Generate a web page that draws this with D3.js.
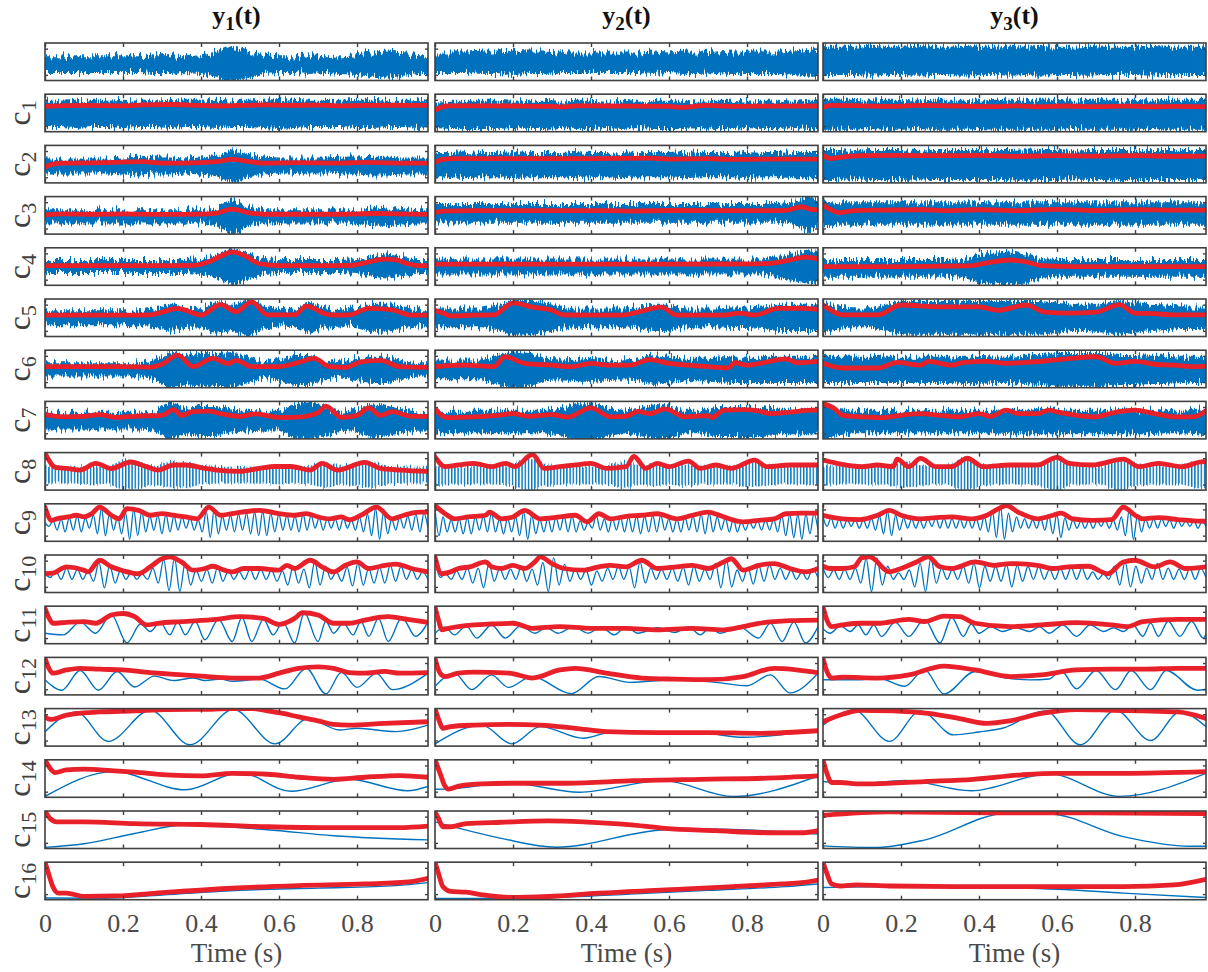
<!DOCTYPE html>
<html><head><meta charset="utf-8">
<script src="https://cdn.jsdelivr.net/npm/d3@7"></script>
<style>html,body{margin:0;padding:0;background:#fff;}svg{display:block;}</style>
</head><body><svg id="chart" width="1208" height="972"></svg>
<script>
const TMAX = 0.982;
const columnSubscripts = ["1","2","3"];
const rowLabels = ["","1","2","3","4","5","6","7","8","9","10","11","12","13","14","15","16"];
const xTicks = [0,0.2,0.4,0.6,0.8];
const xTickLabels = ["0","0.2","0.4","0.6","0.8"];
const yTicks = [-7,7];
const bandTimes = [0,.04,.08,.12,.16,.2,.24,.28,.32,.36,.4,.44,.48,.52,.56,.6,.64,.68,.72,.76,.8,.84,.88,.92,.96,.982];

// noisy rows: half-width of the blue band (panel units -10..10), per column
const ampY  = [[4.5,4.5,4.5,4.5,4.5,4.5,4.5,5,5,4.5,5,6.5,10,7.5,5,4.5,4.5,5,4.5,5,5.5,6.5,7,6,5,5],
               [5.5,5.5,5.5,6,6,6.5,6,6,5.5,5.5,5.5,5.5,5.5,5.5,6,5.5,6,6,5.5,6,6,6,6,6.5,7.5,7.5],
               [7.5,7.5,7.5,8,7.5,7.5,8,7.5,7.5,8,7.5,7.5,8,7.5,8,7.5,7.5,8,7.5,7.5,7.5,8,7.5,7.5,7.5,7.5]];
const ampC1 = [[7,7,7.5,7,7,7.5,7,7,7.5,7,7,7.5,7,7,7.5,8,7.5,7,7,7,7.5,7.5,7,7,7.5,7],
               [7,7.5,7.5,7.5,7.5,7,7.5,7.5,7,7.5,7.5,7,7.5,7,7.5,7.5,7.5,7,7.5,7.5,7,7.5,7.5,7,7.5,7.5],
               [8,8,8,7.5,8,8,7.5,8,8,8,7.5,8,8,8,8,8,7.5,8,8,8,8,7.5,8,8,8,8]];
const ampC2 = [[4,4,4,4,4,4.5,5,4.5,4.5,4,4.5,5.5,9,6,4.5,4,4,4,4,4.5,4.5,5,5,4.5,4.5,4.5],
               [6.5,6.5,7,6.5,6.5,7,6.5,6.5,6.5,7,6.5,6.5,7,6.5,6.5,6.5,7,6.5,6.5,6.5,7,6.5,6.5,7,7,7],
               [8,8,7.5,8,8,8,7.5,8,8,8,8,8,8,8.5,8,8,7.5,8,8,8,8,8,8,8,8,8]];
const ampC3 = [[3.5,3.5,3.5,3.5,3.5,3.5,3.5,3.5,3.5,3.5,3.5,4.5,9.5,5,3.5,3.5,3.5,3.5,3.5,3.5,3.5,4.5,5,4,3.5,3.5],
               [5,5,5,5,5,5,5,5,5,5,5,5,5,5,5,5,5,5,5,5,5,5,5,6,10,6],
               [7,6,6,6,6,6,6,6,6,6,6,6,6,6,6,6,6,6,6,6,6,6,6,6,6,6]];
const ampC4 = [[3.5,3.5,3.5,3.5,3.5,3.5,3.5,3.5,3.5,3.5,4,6,10,7,4,3.5,3.5,3.5,3.5,3.5,4,5.5,6.5,5,3.5,3.5],
               [4,4,4,4,4,4,4,4,4,4,4,4,4,4,4,4,4,4,4,4,4,4,5.5,7.5,9,8],
               [4.5,4.5,4.5,4.5,4.5,4.5,4.5,4.5,4.5,5,7.5,8.5,9,8,5,4.5,4.5,4.5,4.5,4.5,4.5,4.5,4.5,4.5,4.5,4.5]];
const ampC5 = [[4,4,4,4,4,4,4,5,7,5.5,5,8.5,7,10,6,4.5,5,8,5.5,4.5,5,7.5,7.5,5.5,4.5,4.5],
               [5,5,5,5,6.5,9.5,9.5,8,6,5,5,5,5,5.5,7,7,5,5,5,5.5,5.5,6,7,7,7,7],
               [8,6,5,5,7,9,9,9,9,9,9,9,9,9,9,8,7,7,8,9,8,7,6.5,6,6,6]];
const ampC6 = [[3.5,3.5,3.5,3.5,3.5,3.5,3.5,5,10,8,9,9,9.5,7,4,6,8,8,5,4,6,7,7,4.5,3.5,3.5],
               [5,5,5,5,8,10,9,6,5.5,6,6.5,5.5,5,5.5,8,7,6,6,6.5,7,7,7,7,7,7,7],
               [7,7,7,7,7,7,7,7,7,7.5,7.5,7,7,7.5,8,9,9,9,9,8,8,7.5,7.5,7,7,7]];
const ampC7 = [[4.5,4.5,4.5,4.5,4.5,4.5,4.5,5,10,7,8,8,6,5.5,5,5,9,10,8,5,6,9,8,6,5,5],
               [6,6,6,6,6,6,6,6,7,10,10,8,6,7,9,9,6,6,8,8,8,8,6.5,6.5,6.5,6.5],
               [10,7,6,6,6,6,6,6,6,6,6,6,6.5,6.5,6.5,6.5,6.5,6.5,6.5,6.5,6.5,6.5,6,6,6.5,7]];
const ampC8 = [[4.5,4.5,4.5,5.5,4.5,8,7,5,7,7,5,4.5,4.5,4.5,4.5,5,4.5,5,7,5,6,7,5,4.5,4.5,4.5],
               [6,5,5,5,5,6,9,6,5,5,5,5,7.5,5,6,5,6,5,5,5,6.5,6,5,5,5,5],
               [5,5,5,5,5,7,6,5,5,9,6,5,5,5,6,9,5,5,5,9,6,5,5,5,7,7]];
const bandCentre = [[-1.5,-0.5,0.5],[-0.5,-1,-1],[-1,-0.5,-0.5],[-0.8,1,1],[0,-0.3,-1],[0,0,0],[-0.5,-0.5,-0.5],[-0.5,-1,-1],[-2,-2,-2]];

// oscillating IMFs c9, c10: successive peaks and troughs
const c9Peaks = [[0,1,2,2.5,3.5,2.5,4,7.5,5,3,5,7,6,3.5,4,4.5,3.5,3,2.5,1.5,6,7.5,3.5,4,4.5,5,5.5,6,5,4.5,4,3.5,4.5,4,2.5,2,2,2.5,1.5,3,4.5,7.5,6,2,3,3.5,4.5,5],
                 [7,3,1.5,2,2.5,3,3.5,5,2,2.5,3,6,4,2,2.5,3,3.5,3.5,1,0,4,2,2.5,3,3,3.5,3.5,4,4,2,2,3,3.5,4.5,5,3,2.5,2,0.5,0.5,1,1.5,2,4,4.5,4.5,4.5,5],
                 [3,2.5,2,1.5,1.5,1.5,2.5,3.5,6,4,2.5,2,1.5,2,2.5,2.5,2,2,2,2.5,3.5,6.5,9,5,3,2,1.5,2.5,3.5,4.5,2.5,1.5,1,1,1,1.5,1.5,3,7.5,4,2,2,2,1.5,1.5,1,1,0.5]];
const c9Troughs = [[-2,-4,-5,-4,-5,-3,-6,-7,-4,-6,-9,-7,-5,-4,-6,-5,-4,-3,-4,-5,-8,-6,-4,-5,-4,-6,-7,-7,-5,-4,-4,-5,-4,-3,-4,-3,-4,-3,-4,-5,-7,-9,-6,-4,-3,-4,-5,-3],
                   [-7,-5,-5,-6,-6,-4,-5,-5,-6,-5,-7,-9,-6,-5,-5,-4,-5,-5,-4,-3,-4,-5,-4,-5,-5,-6,-5,-5,-4,-5,-5,-4,-5,-6,-5,-4,-5,-5,-4,-3,-4,-4,-5,-7,-8,-9,-6,-4],
                   [-2,-3,-3,-2,-3,-3,-4,-6,-7,-4,-3,-3,-3,-2,-3,-3,-3,-3,-3,-4,-5,-8,-9,-5,-3,-3,-3,-4,-6,-8,-4,-3,-3,-3,-2,-3,-4,-7,-9,-5,-3,-3,-2,-3,-2,-2,-3,-2]];
const c10Peaks = [[0,1.5,3,2.5,1.5,6,4.5,2,1,0,3,7.5,8.5,6,2,2.5,3.5,2,1,2.5,2.5,2,1.5,4,2.5,6.5,4,1,3.5,5.5,3,3.5,4.5,4,2.5,1],
                  [7,0,1.5,3,3,5.5,3,2.5,4,2.5,6,8.5,5,2.5,2,1.5,3,4,3.5,6.5,3,2.5,3,3.5,4,2.5,5.5,7.5,2,3.5,4.5,5,3,2,1,2.5],
                  [3,2,2.5,3,8,8.5,4,0.5,2,5.5,8.5,3,2.5,4,5.5,4,4,5,4.5,4,4,2.5,3,3.5,3,1,0,4,6.5,4,3,5.5,3,2.5,3,3]];
const c10Troughs = [[-2,-3,-3,-3,-4,-7.5,-5,-3,-3,-3,-5,-9,-9.5,-6,-4,-5,-4,-3,-3,-3,-3,-4,-6,-5,-7.5,-6,-3,-4,-6.5,-6,-5,-5,-4,-3,-3,-3],
                    [-2,-3,-3,-5,-7.5,-4,-3,-3,-4,-6,-9.5,-6,-4,-3,-6,-4,-3,-3,-7.5,-5,-3,-3,-4,-6,-4,-3,-7.5,-7,-4,-5.5,-4,-3,-3,-3,-3,-2],
                    [-2,-3,-3,-5,-9.5,-6,-3,-3,-7,-9.5,-5,-3,-3,-5,-7.5,-4,-4,-7,-4,-3,-3,-3,-3,-3,-3,-3,-3,-6,-7,-5,-3,-3,-3,-3,-3,-2]];

// slow IMFs c11..c16: [time, value] extrema
const blueC11 = [[[0,-4.4],[.047,-5.3],[.09,1.5],[.13,-4.4],[.17,5.5],[.21,-9.6],[.245,.5],[.27,-3.5],[.295,1.5],[.32,-5.3],[.34,1.5],[.36,-5.3],[.385,2],[.41,-7.9],[.445,3],[.48,-8.8],[.505,4],[.53,-8.8],[.56,3],[.585,-5.3],[.61,1.5],[.64,-9.6],[.665,6.5],[.7,-8.8],[.72,2],[.74,-4.4],[.765,1],[.79,-5.3],[.81,2],[.83,-6.1],[.855,3.5],[.88,-8.8],[.915,4],[.95,-6.1],[.982,1.5]],
  [[0,-4.5],[.025,-1],[.05,-5.3],[.08,-.5],[.107,-7],[.145,0],[.18,-7],[.22,-.5],[.256,-4.4],[.285,-1.5],[.316,-4.4],[.355,-1],[.393,-4.4],[.425,-1],[.46,-5.3],[.49,-1],[.52,-4.4],[.57,-1.5],[.615,-4],[.65,-1],[.68,-5.3],[.705,-1.5],[.73,-4.4],[.78,-1],[.83,-7],[.86,1],[.89,-8.8],[.92,1.5],[.95,-9.6],[.982,-1]],
  [[0,-2],[.018,-4.4],[.045,-.5],[.07,-3.5],[.09,0],[.11,-5.3],[.13,0],[.15,-6.1],[.185,1.5],[.22,-6.1],[.26,3],[.3,-9.6],[.33,4],[.36,-6.1],[.38,.5],[.4,-4.4],[.43,-1],[.46,-3.5],[.495,-1.5],[.53,-3.5],[.555,-1],[.58,-4.4],[.615,0],[.65,-6.1],[.685,0],[.72,-3.5],[.745,-1.5],[.77,-3.5],[.795,0],[.82,-6.1],[.84,1],[.86,-6.1],[.885,2],[.915,-6.1],[.945,2],[.975,-7],[.982,-5]]];
const blueC12 = [[[0,-2],[.043,-7.5],[.09,3],[.137,-7.5],[.185,2.5],[.23,-5.8],[.28,0],[.33,-2.3],[.38,-1],[.41,-2.3],[.45,-1.5],[.48,-2.8],[.55,-1.6],[.615,-6.8],[.67,4.2],[.72,-9.5],[.76,2],[.8,-6],[.85,1.5],[.89,-7.2],[.982,1.5]],
  [[0,-5.4],[.05,1.6],[.094,-7.2],[.145,.7],[.188,-6],[.248,-.2],[.35,-9.3],[.42,-.2],[.5,-3.3],[.615,-1.9],[.72,-3.3],[.8,-5.1],[.86,.7],[.91,-8.9],[.982,1.6]],
  [[0,-1.9],[.095,-1.9],[.14,-1],[.21,-5.4],[.26,3.5],[.31,-9.5],[.39,2.5],[.47,-1],[.53,-2],[.58,-1.5],[.61,3],[.65,-6.8],[.7,3],[.75,-7.2],[.79,3],[.84,-7.2],[.88,3],[.96,-7.5],[.982,-7]]];
const blueC13 = [[[0,-2.3],[.08,8.2],[.162,-7.5],[.27,9.1],[.372,-9.3],[.483,9.5],[.59,-8.8],[.675,4.7],[.755,-1.4],[.8,-.5],[.9,-2.3],[.982,1.2]],
  [[0,-8.8],[.12,1.2],[.197,-8.8],[.27,.4],[.38,-5.8],[.45,-2.8],[.6,-3.5],[.675,-2.8],[.79,-5.3],[.982,-1.4]],
  [[0,1.2],[.08,9.1],[.17,-7.5],[.25,8.8],[.335,-4],[.4,-2.5],[.46,-.5],[.57,8.8],[.66,-9.3],[.75,9.1],[.84,-7],[.915,8.2],[.982,.4]]];
const blueC14 = [[[0,-9.5],[.175,3.7],[.36,-6],[.5,3.2],[.63,-6.8],[.78,-.4],[.93,-6.5],[.982,-4.2]],
  [[0,-5.7],[.04,-5.5],[.19,-2.3],[.37,-7.3],[.585,-1.1],[.765,-9.6],[.982,1.4]],
  [[0,-1.6],[.086,-2.8],[.21,-1],[.38,-6.5],[.58,2.5],[.76,-9.5],[.982,2.8]]];
const blueC15 = [[[0,-9.4],[.1,-7.5],[.23,-2],[.36,2.5],[.57,0],[.74,-3.2],[.982,-5.4]],
  [[0,4.2],[.17,-4.6],[.31,-9.3],[.59,0],[.7,.4],[.982,-2.3]],
  [[0,-8.6],[.13,-9.5],[.26,-5.5],[.47,8.6],[.58,8.4],[.77,-3.7],[.94,-8.8],[.982,-8.8]]];
const blueC16 = [[[0,-9.1],[.15,-9.2],[.3,-7.5],[.5,-5],[.7,-3.8],[.9,-2.5],[.982,-.9]],
  [[0,-9.3],[.2,-9.3],[.35,-8.5],[.5,-7],[.7,-5],[.9,-3],[.982,-1.6]],
  [[0,-3.5],[.17,-3],[.43,-3.5],[.6,-4.4],[.77,-6.5],[.982,-8.8]]];

// red envelopes: [time, value]
const redC1 = [[[0,3.5],[.1,4],[.2,3.8],[.25,4.3],[.33,4.5],[.4,4],[.45,3.7],[.5,4],[.57,4.3],[.63,4],[.7,4.2],[.75,3.8],[.82,4],[.9,4.1],[.982,4]],
  [[0,1.5],[.01,2.5],[.03,3.7],[.1,3.8],[.2,3.7],[.3,3.5],[.33,3.2],[.36,3.8],[.45,3.7],[.6,3.5],[.63,3],[.7,4],[.75,3.5],[.85,3.6],[.982,3.7]],
  [[0,3],[.02,4],[.1,3.8],[.18,3.5],[.25,4],[.35,3.6],[.45,3.4],[.5,3.8],[.55,3.3],[.62,3.7],[.7,3.4],[.78,3.6],[.85,3.3],[.9,3.5],[.982,3.3]]];
const redC2 = [[[0,-1.5],[.02,0],[.05,.5],[.15,.8],[.25,1.3],[.3,.5],[.4,.8],[.44,1.3],[.48,2.5],[.52,1.5],[.56,.5],[.65,.8],[.75,.5],[.82,1],[.9,.6],[.982,.6]],
  [[0,1],[.02,2.5],[.05,3],[.2,3],[.4,3],[.55,3.2],[.6,2.7],[.7,3],[.75,2.5],[.85,2.7],[.982,2.7]],
  [[0,4.7],[.02,3],[.04,3.5],[.1,4.5],[.2,4.7],[.3,4.5],[.4,4.7],[.5,4.2],[.6,4.5],[.7,4.3],[.8,4.5],[.9,4.2],[.982,4.3]]];
const redC3 = [[[0,.3],[.05,.8],[.12,.6],[.2,.8],[.3,.5],[.4,.6],[.44,1.2],[.48,3.3],[.52,1.5],[.56,.6],[.65,.6],[.75,.6],[.85,1],[.9,.8],[.982,.5]],
  [[0,1.5],[.02,2.3],[.1,2.5],[.3,2.5],[.45,2.5],[.5,2.3],[.6,2.6],[.8,2.5],[.9,2.7],[.94,4.6],[.97,3],[.982,3]],
  [[0,5.5],[.02,3],[.04,1.5],[.08,2.5],[.15,2.8],[.25,3],[.32,2.5],[.4,3],[.5,2.5],[.6,3.2],[.7,2.6],[.8,3],[.9,2.8],[.982,2.8]]];
const redC4 = [[[0,.5],[.1,.5],[.2,.5],[.3,.5],[.38,.6],[.42,2.5],[.45,5.5],[.48,7.8],[.51,6],[.55,1.5],[.6,.5],[.7,.5],[.78,.6],[.82,2],[.87,4],[.9,3.5],[.93,1.5],[.96,.5],[.982,.5]],
  [[0,1.3],[.2,1.3],[.4,1.3],[.6,1.3],[.8,1.4],[.86,1.7],[.9,3],[.95,5],[.982,4]],
  [[0,0],[.1,0],[.2,0],[.3,.2],[.38,.5],[.42,2],[.48,3.5],[.52,2.5],[.56,.5],[.65,0],[.8,0],[.982,0]]];
const redC5 = [[[0,1.4],[.1,1.4],[.2,1.4],[.27,1.5],[.3,3],[.34,5],[.38,2.5],[.4,1.4],[.45,7],[.49,3.2],[.53,8.5],[.57,1.5],[.64,1.5],[.67,6.2],[.72,2],[.74,1.4],[.78,1.5],[.83,5],[.89,4.2],[.94,1.4],[.982,1.4]],
  [[0,4],[.02,2.5],[.04,1],[.1,1.4],[.15,1.5],[.2,7.9],[.25,5.7],[.3,4],[.33,1.5],[.4,1.4],[.48,1.4],[.52,3],[.58,5.7],[.62,1.4],[.7,1.4],[.74,1.4],[.78,2.5],[.82,1.4],[.88,5],[.94,5],[.982,4.5]],
  [[0,6.8],[.02,4],[.05,1.5],[.14,1.5],[.2,6.8],[.3,5.8],[.4,5.8],[.45,4],[.52,6.8],[.57,3],[.63,2.5],[.7,3],[.76,7],[.8,2.5],[.85,2.2],[.9,1.5],[.982,1.5]]];
const redC6 = [[[0,1.2],[.1,1.2],[.2,1.2],[.27,1],[.3,2.5],[.34,7.4],[.38,1.2],[.43,5.6],[.47,2.9],[.49,4.6],[.53,1.2],[.6,1.2],[.65,3.5],[.69,5.6],[.73,1.2],[.77,.8],[.81,3.8],[.86,4.6],[.91,1.2],[.982,.8]],
  [[0,1.2],[.08,2],[.15,1.2],[.18,6.5],[.23,3],[.3,2],[.35,1.2],[.4,3],[.45,2],[.5,2],[.55,5],[.6,3],[.65,2],[.7,1.2],[.75,.5],[.77,3.3],[.8,2],[.84,3.3],[.9,5.4],[.93,3.3],[.982,4]],
  [[0,3],[.05,.5],[.14,.5],[.19,3.5],[.25,2],[.27,4],[.33,2],[.36,3.5],[.42,4],[.47,3],[.52,3.5],[.58,4.5],[.63,5.5],[.7,6.5],[.75,3],[.8,4],[.85,2.5],[.9,2],[.95,1.2],[.982,1.5]]];
const redC7 = [[[0,3],[.05,1.8],[.1,2],[.14,3],[.18,1.5],[.24,2.2],[.3,2.6],[.33,5.6],[.35,2.5],[.38,4.6],[.42,4.8],[.45,3.5],[.5,2],[.54,3.4],[.6,1.5],[.65,1.6],[.7,4],[.72,7.5],[.76,1.5],[.8,2.5],[.83,6.5],[.86,2.5],[.89,4.5],[.94,2],[.982,2]],
  [[0,6],[.03,1.4],[.1,1.8],[.16,2.6],[.2,3.5],[.24,2],[.3,3],[.34,1.6],[.4,6.5],[.45,1.8],[.49,2],[.52,4.7],[.55,3.5],[.59,6],[.64,1.8],[.7,2.4],[.71,1.4],[.74,5.3],[.79,5.6],[.83,5],[.86,3.5],[.91,4.3],[.97,5.3],[.982,5.3]],
  [[0,8.8],[.03,6.1],[.05,2.6],[.1,1.8],[.15,1.4],[.2,2.6],[.25,3.5],[.3,2.6],[.35,1.8],[.4,3.5],[.43,2],[.47,5.3],[.5,3.5],[.55,3.5],[.58,5.3],[.6,4.4],[.65,2.6],[.7,1.8],[.74,3.8],[.8,5.3],[.85,3.5],[.9,1.8],[.95,1.8],[.982,5]]];
const redC8 = [[[0,9.5],[.01,6],[.02,3],[.03,2],[.055,1.6],[.09,.7],[.13,4.3],[.17,1.5],[.22,5],[.26,2.5],[.29,.7],[.33,3.4],[.36,3.4],[.41,1.6],[.44,.7],[.5,0],[.55,1.6],[.59,2.6],[.63,2.6],[.68,.7],[.71,4.3],[.75,.7],[.82,4.8],[.86,1.6],[.91,.7],[.982,0]],
  [[0,7.7],[.026,2.5],[.06,3.4],[.1,4.3],[.145,2.5],[.18,4.3],[.205,2.5],[.25,9],[.28,1.6],[.32,2.5],[.36,3.4],[.4,4.3],[.44,1.6],[.49,2.5],[.51,8],[.54,1.6],[.57,4.3],[.6,2.5],[.65,5.5],[.68,1.6],[.72,3.4],[.76,1.6],[.82,6],[.85,2.5],[.91,3.4],[.97,3.4],[.982,3.4]],
  [[0,6],[.035,4.3],[.1,2.5],[.14,3.4],[.18,2.5],[.19,6.5],[.22,2.5],[.25,6.9],[.29,2.5],[.33,2.5],[.37,7],[.41,2.5],[.48,3.4],[.55,3.4],[.6,7.5],[.63,4.3],[.69,3.4],[.77,6.5],[.81,2.5],[.86,4.3],[.92,2.5],[.975,5.2],[.982,5]]];
const redC9 = [[[0,8.2],[.017,1.2],[.03,2],[.06,3],[.08,3.9],[.1,3],[.12,4.8],[.14,8.2],[.17,3.9],[.19,2],[.21,7.4],[.24,6.5],[.27,3.9],[.3,4.8],[.33,3.9],[.36,3],[.39,2],[.42,8.2],[.45,3.9],[.48,4.8],[.55,6.5],[.6,4.8],[.64,3.9],[.67,4.8],[.7,3],[.73,2],[.76,3],[.78,1.5],[.81,3.9],[.85,8.2],[.89,2],[.92,3.9],[.96,5.6],[.982,5.6]],
  [[0,9],[.026,4.7],[.05,2],[.085,3],[.13,3.9],[.14,5.6],[.17,2],[.2,3],[.23,6.5],[.27,2],[.32,3],[.36,3.9],[.39,.4],[.42,4.7],[.45,2],[.49,3.3],[.53,3.9],[.57,4.7],[.62,2],[.66,3.9],[.7,5.6],[.74,3],[.79,.4],[.83,1.2],[.87,2],[.9,4.7],[.94,5],[.982,5]],
  [[0,3.9],[.018,3],[.05,2],[.095,1.6],[.14,3.9],[.17,6.5],[.2,3.9],[.25,2],[.29,2.6],[.33,3],[.38,2],[.42,3.9],[.45,7.4],[.47,9.1],[.5,5.6],[.55,2],[.59,3.9],[.61,5],[.64,2],[.69,1.2],[.74,1.6],[.77,8.2],[.8,3.9],[.82,2],[.86,2.6],[.91,1.6],[.95,.9],[.982,.7]]];
const redC10 = [[[0,0],[.02,.3],[.055,3.7],[.1,1.9],[.11,1],[.14,7.2],[.17,3.7],[.2,1.6],[.24,0],[.27,3.7],[.3,8],[.32,9],[.35,6.3],[.38,1.9],[.41,2.8],[.43,4],[.46,1.9],[.48,1],[.51,2.8],[.55,2.8],[.6,1.9],[.62,4.5],[.64,2.8],[.68,7.2],[.71,3.7],[.74,1],[.77,4.5],[.8,6.3],[.83,2.8],[.86,4],[.9,5.1],[.94,2.8],[.982,1]],
  [[0,9],[.017,0],[.04,1],[.06,2.8],[.09,3.7],[.13,6.3],[.145,3.7],[.17,2.8],[.2,4.5],[.23,2.8],[.256,6.3],[.27,9],[.3,5.4],[.33,2.8],[.38,1.9],[.42,3.7],[.45,4.5],[.49,3.7],[.53,7.2],[.57,2.8],[.62,3.7],[.66,4.5],[.7,2.8],[.74,6.3],[.76,8],[.79,1.9],[.83,4.5],[.87,5.4],[.91,2.8],[.95,1],[.982,2.8]],
  [[0,4],[.018,2.8],[.05,2.8],[.08,3.7],[.1,8.6],[.12,9],[.17,1],[.2,2.8],[.24,6.3],[.27,9],[.3,3.7],[.33,2.8],[.39,6.3],[.44,4.5],[.48,5.4],[.55,4.5],[.59,2.8],[.63,3.7],[.68,4],[.73,0],[.77,6.3],[.8,7.2],[.85,3.7],[.89,6.3],[.93,2.8],[.982,3.7]]];
const redC11 = [[[0,8.8],[.013,2.6],[.02,.9],[.055,1.4],[.1,1.8],[.13,.9],[.17,5.3],[.2,6.1],[.23,4.4],[.26,0],[.29,.9],[.35,1.8],[.44,3],[.5,4.4],[.56,3.5],[.6,.3],[.64,3.5],[.66,6.5],[.7,5.3],[.74,.9],[.78,.9],[.82,2.6],[.88,4.4],[.93,3],[.982,1.4]],
  [[0,9.6],[.01,1.8],[.017,-2.6],[.034,-1.8],[.06,-.9],[.1,0],[.145,.5],[.2,.9],[.25,-1.8],[.32,-.9],[.4,-1.8],[.49,-1.8],[.57,-2.6],[.66,-1.8],[.74,-2.6],[.79,-.9],[.83,.9],[.87,1.8],[.91,2.3],[.982,2.6]],
  [[0,9.6],[.01,2.6],[.022,-.9],[.05,0],[.095,.9],[.14,.9],[.22,3],[.26,1.8],[.31,4.7],[.35,4.4],[.39,.9],[.48,-.9],[.56,0],[.65,1.2],[.74,0],[.78,-.9],[.82,1.8],[.91,3],[.982,3]]];
const redC12 = [[[0,9.5],[.01,4.2],[.02,1.6],[.055,3.3],[.09,4.2],[.14,3.7],[.2,3.3],[.27,1.9],[.33,1],[.4,0],[.48,-1],[.55,-1],[.6,1.6],[.65,4.2],[.7,5],[.74,4.2],[.78,1.9],[.82,1.6],[.87,2.5],[.91,1.6],[.982,1.9]],
  [[0,9.5],[.013,1.6],[.026,-.2],[.06,1.6],[.1,2.1],[.19,1.6],[.25,-1],[.32,3.3],[.36,4.2],[.44,1.6],[.53,-1],[.615,-1.6],[.7,-1.9],[.79,-.2],[.87,4.2],[.982,1.9]],
  [[0,9.5],[.01,2.5],[.022,-1],[.05,-.5],[.14,-1],[.22,.7],[.31,5.4],[.39,3.3],[.48,-.2],[.56,.7],[.65,3.3],[.74,3.7],[.82,3.7],[.91,4.2],[.982,4.2]]];
const redC13 = [[[0,5.6],[.013,4.2],[.055,6.5],[.1,7.7],[.14,8.2],[.23,8.8],[.31,9.5],[.4,9.6],[.48,10],[.53,10],[.57,8.8],[.61,7.4],[.65,5.6],[.7,3.5],[.74,1.6],[.78,1.2],[.87,2.1],[.982,3]],
  [[0,10],[.01,3.9],[.02,-.5],[.04,.4],[.1,1.2],[.19,1.6],[.27,1.2],[.36,-.5],[.44,-2.3],[.57,-2.8],[.7,-2.8],[.83,-3.2],[.982,-1.8]],
  [[0,3],[.05,7],[.095,9.1],[.18,8.8],[.27,7.4],[.35,4.7],[.42,2.1],[.48,3.5],[.56,7.4],[.65,9.5],[.74,9.1],[.82,8.8],[.91,8.2],[.982,4.7]]];
const redC14 = [[[0,10],[.013,5.5],[.026,3.2],[.055,4.6],[.1,5],[.17,4.2],[.23,3.4],[.31,2],[.4,1.4],[.48,2.8],[.57,2.3],[.65,.7],[.74,-.4],[.82,.7],[.91,1.6],[.982,.7]],
  [[0,10],[.013,2.8],[.026,-4.2],[.034,-5.6],[.064,-3.9],[.12,-2.8],[.21,-2.5],[.34,-2.5],[.51,-1.1],[.68,-.4],[.85,.2],[.982,1.4]],
  [[0,10],[.01,2.8],[.022,-2.1],[.045,-2.1],[.086,-2.8],[.13,-2.8],[.26,-1.6],[.385,-.4],[.51,2],[.6,2.8],[.77,2.8],[.982,3.7]]];
const redC15 = [[[0,10],[.013,6],[.03,4.2],[.1,4.2],[.23,3.3],[.4,2.8],[.57,1.6],[.74,1.1],[.91,1.1],[.982,1.9]],
  [[0,9.5],[.009,6],[.02,1.6],[.04,1.6],[.08,3.3],[.17,4],[.29,4.7],[.38,4.2],[.51,2.5],[.59,.7],[.72,-.5],[.85,-1.6],[.94,-1.6],[.982,-.5]],
  [[0,7.7],[.17,9.5],[.43,9],[.68,9],[.982,8.6]]];
const redC16 = [[[0,10],[.009,4],[.02,-3],[.034,-6.5],[.055,-6.5],[.1,-8.2],[.18,-8],[.31,-6.1],[.48,-3.9],[.65,-2.5],[.82,-1.6],[.94,-.3],[.982,1.4]],
  [[0,10],[.009,4],[.02,-3],[.04,-5.6],[.08,-6],[.12,-7.4],[.19,-8.8],[.29,-8.3],[.42,-6.5],[.59,-4.8],[.765,-3],[.89,-1.6],[.94,-.9],[.982,.5]],
  [[0,10],[.01,4],[.022,-1.6],[.044,-2.7],[.086,-2.1],[.17,-2.7],[.34,-3],[.6,-3],[.77,-3],[.9,-2.1],[.982,.9]]];

// ---------- assemble ----------
const bandAmp = [ampY, ampC1, ampC2, ampC3, ampC4, ampC5, ampC6, ampC7, ampC8];
const oscPeaks = {9: c9Peaks, 10: c10Peaks};
const oscTroughs = {9: c9Troughs, 10: c10Troughs};
const slowBlue = {11: blueC11, 12: blueC12, 13: blueC13, 14: blueC14, 15: blueC15, 16: blueC16};
const redRows = [null, redC1, redC2, redC3, redC4, redC5, redC6, redC7, redC8, redC9, redC10, redC11, redC12, redC13, redC14, redC15, redC16];

const W = 383, H = 37.5;
const colX = [45, 435, 823];
const rowTop = r => 43 + r * 51.2;
const BLUE = "#0072BD", RED = "#E8202A", AX = "#404040", TXT = "#4a4a4a";
const FONT = "Liberation Serif, Times New Roman, Times, serif";

const svg = d3.select("#chart");
svg.append("rect").attr("width", 1208).attr("height", 972).attr("fill", "#fff");
const defs = svg.append("defs");

const xs = d3.scaleLinear().domain([0, TMAX]).range([0, W]);
const ys = d3.scaleLinear().domain([-10, 10]).range([H, 0]);

defs.append("pattern").attr("id", "oscfill").attr("patternUnits", "userSpaceOnUse")
  .attr("width", 3.2).attr("height", 60)
  .append("rect").attr("width", 1.4).attr("height", 60).attr("fill", BLUE);

function noiseFilter(id, seed, scale) {
  const f = defs.append("filter").attr("id", id).attr("filterUnits", "userSpaceOnUse")
    .attr("color-interpolation-filters", "sRGB")
    .attr("x", -5).attr("y", -20).attr("width", W + 10).attr("height", H + 40);
  f.append("feTurbulence").attr("type", "fractalNoise").attr("baseFrequency", "0.55 0.03")
    .attr("numOctaves", 2).attr("seed", seed).attr("result", "n");
  f.append("feColorMatrix").attr("in", "n").attr("type", "matrix")
    .attr("values", "0 0 0 0 0.5  0 1 0 0 0  0 0 1 0 0  0 0 0 0 1").attr("result", "m");
  f.append("feDisplacementMap").attr("in", "SourceGraphic").attr("in2", "m")
    .attr("scale", scale).attr("xChannelSelector", "R").attr("yChannelSelector", "G");
}

const line = d3.line().x(d => xs(d[0])).y(d => ys(d[1])).curve(d3.curveMonotoneX);

for (let r = 0; r < 17; r++) {
  for (let c = 0; c < 3; c++) {
    const g = svg.append("g").attr("transform", `translate(${colX[c]},${rowTop(r)})`);
    const cid = `clip-${r}-${c}`;
    defs.append("clipPath").attr("id", cid).append("rect").attr("width", W).attr("height", H);
    const inner = g.append("g").attr("clip-path", `url(#${cid})`);

    if (r <= 8) {
      const amp = bandAmp[r][c], mid = bandCentre[r][c];
      const pts = bandTimes.map((t, i) => [t, amp[i]]);
      const area = d3.area().x(d => xs(d[0]))
        .y0(d => ys(mid - d[1])).y1(d => ys(mid + d[1])).curve(d3.curveLinear);
      const fid = `nz-${r}-${c}`;
      noiseFilter(fid, r * 3 + c + 2, r === 8 ? 8 : 16);
      inner.append("path").attr("d", area(pts))
        .attr("fill", r === 8 ? "url(#oscfill)" : BLUE)
        .attr("filter", `url(#${fid})`);
    } else if (r <= 10) {
      const P = oscPeaks[r][c], T = oscTroughs[r][c];
      const ext = P.flatMap((p, i) => [p, T[i]]);
      const pts = ext.map((v, k) => [k / (ext.length - 1) * TMAX, v]);
      inner.append("path").attr("d", line(pts)).attr("fill", "none")
        .attr("stroke", BLUE).attr("stroke-width", 1.3);
    } else {
      inner.append("path").attr("d", line(slowBlue[r][c])).attr("fill", "none")
        .attr("stroke", BLUE).attr("stroke-width", 1.4);
    }

    if (r >= 1) {
      inner.append("path").attr("d", line(redRows[r][c])).attr("fill", "none")
        .attr("stroke", RED).attr("stroke-width", 4.8)
        .attr("stroke-linejoin", "round").attr("stroke-linecap", "round");
    }

    // axes (ticks pointing inward)
    const bottom = g.append("g").attr("transform", `translate(0,${H})`)
      .call(d3.axisBottom(xs).tickValues(xTicks).tickSizeInner(-4).tickSizeOuter(0).tickPadding(14)
        .tickFormat(r === 16 ? ((d, i) => xTickLabels[i]) : ""));
    const top = g.append("g").call(d3.axisTop(xs).tickValues(xTicks).tickSizeInner(-4).tickSizeOuter(0).tickFormat(""));
    const left = g.append("g").call(d3.axisLeft(ys).tickValues(yTicks).tickSizeInner(-3).tickSizeOuter(0).tickFormat(""));
    const right = g.append("g").attr("transform", `translate(${W},0)`)
      .call(d3.axisRight(ys).tickValues(yTicks).tickSizeInner(-3).tickSizeOuter(0).tickFormat(""));
    [bottom, top, left, right].forEach(a => {
      a.select(".domain").remove();
      a.selectAll(".tick line").attr("stroke", AX).attr("stroke-width", 1.4);
      a.selectAll(".tick text").attr("font-family", FONT).attr("font-size", 26).attr("fill", TXT);
    });

    g.append("rect").attr("width", W).attr("height", H).attr("fill", "none")
      .attr("stroke", AX).attr("stroke-width", 1.6);
  }

  if (r >= 1) {
    const lab = svg.append("text")
      .attr("transform", `translate(30,${rowTop(r) + H / 2}) rotate(-90)`)
      .attr("text-anchor", "middle").attr("font-family", FONT).attr("font-size", 32).attr("fill", "#404040");
    lab.append("tspan").text("c");
    lab.append("tspan").attr("font-size", 22).attr("dy", 6).text(rowLabels[r]);
  }
}

for (let c = 0; c < 3; c++) {
  const tt = svg.append("text").attr("x", colX[c] + W / 2).attr("y", 24)
    .attr("text-anchor", "middle").attr("font-family", FONT).attr("font-weight", "bold")
    .attr("font-size", 26).attr("fill", "#111");
  tt.append("tspan").text("y");
  tt.append("tspan").attr("font-size", 19).attr("dy", 6).text(columnSubscripts[c]);
  tt.append("tspan").attr("dy", -6).text("(t)");

  svg.append("text").attr("x", colX[c] + W / 2).attr("y", 962)
    .attr("text-anchor", "middle").attr("font-family", FONT).attr("font-size", 27)
    .attr("fill", TXT).text("Time (s)");
}
</script>
</body></html>
